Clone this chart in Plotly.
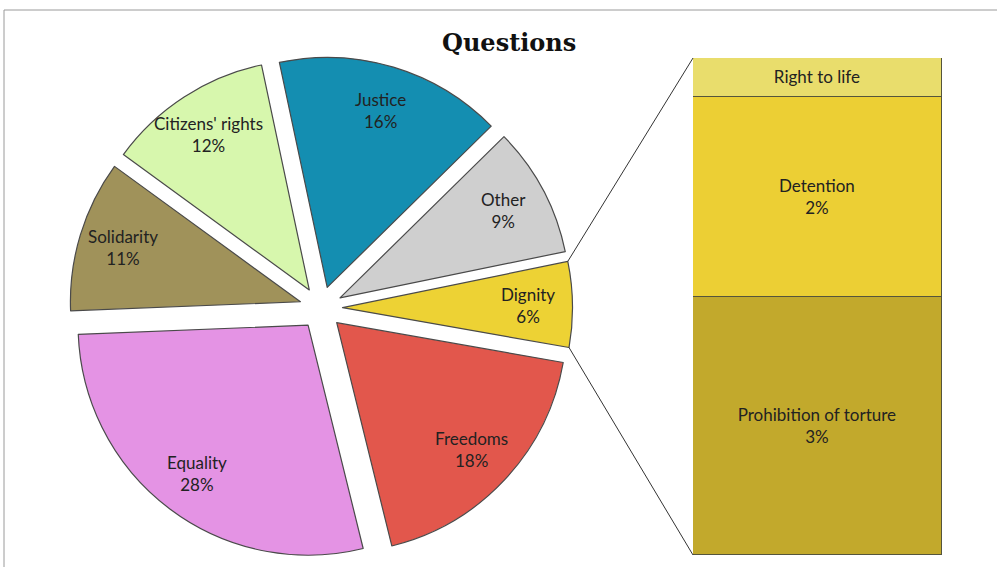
import math
import plotly.graph_objects as go

# ---- data ----
categories = ["Justice", "Other", "Dignity", "Freedoms", "Equality", "Solidarity", "Citizens' rights"]
sub_categories = ["Prohibition of torture", "Detention", "Right to life"]
sub_shares = [3.1, 2.4, 0.47]
other_shares = {"Justice": 15.9, "Other": 9.1, "Freedoms": 18.3, "Equality": 28.1,
                "Solidarity": 10.6, "Citizens' rights": 11.6}
shares = [round(sum(sub_shares), 2) if c == "Dignity" else other_shares[c] for c in categories]

slice_colors = ["#148EB1", "#CFCFCF", "#EDD234", "#E2574C", "#E493E4", "#A0925A", "#D7F7AD"]
sub_colors = ["#C2A92C", "#ECCF34", "#E9DD6C"]
sub_show_pct = [True, True, False]

title_text = "Questions"

# ---- style / layout constants ----
W, H = 997, 567
PULL = 0.0935
ROTATION = -12
pie_cx, pie_cy, pie_R = 321, 308, 251.5          # pixel centre and outer extent
bar_x0, bar_x1, bar_top, bar_bot = 693, 942, 58, 555
LABEL_FONT = dict(family="Lato, Open Sans, sans-serif", size=17, color="#222222")


def px2paper(x, y):
    return x / W, 1 - y / H


total = sum(shares)
pct = [round(v / total * 100) for v in shares]

fig = go.Figure()

dom_x = [(pie_cx - pie_R) / W, (pie_cx + pie_R) / W]
dom_y = [1 - (pie_cy + pie_R) / H, 1 - (pie_cy - pie_R) / H]

fig.add_trace(go.Pie(
    labels=categories, values=shares, sort=False, direction="clockwise",
    rotation=ROTATION, pull=[PULL] * len(shares),
    marker=dict(colors=slice_colors, line=dict(color="#4a4a4a", width=1.2)),
    textinfo="none", hoverinfo="label+percent", showlegend=False,
    domain=dict(x=dom_x, y=dom_y),
))

# label annotations, positioned from the pie geometry
r = pie_R / (1 + PULL)
pull_px = PULL * r
annotations = []
cum = 0.0
angles = []
for name, v, p in zip(categories, shares, pct):
    a0 = ROTATION + cum / total * 360
    cum += v
    a1 = ROTATION + cum / total * 360
    angles.append((a0, a1))
    mid = math.radians((a0 + a1) / 2)
    d = pull_px + 0.805 * r
    lx = pie_cx + d * math.sin(mid)
    ly = pie_cy - d * math.cos(mid)
    xp, yp = px2paper(lx, ly)
    annotations.append(dict(x=xp, y=yp, xref="paper", yref="paper",
                            xanchor="center", yanchor="middle",
                            text=f"{name}<br>{p}%", showarrow=False,
                            font=LABEL_FONT, align="center"))

# ---- bar of pie ----
for name, v, c, show in zip(sub_categories, sub_shares, sub_colors, sub_show_pct):
    txt = f"{name}<br>{round(v / total * 100)}%" if show else name
    fig.add_trace(go.Bar(
        x=[0], y=[v], name=name, marker=dict(color=c, line=dict(color="#55553c", width=1.2)),
        text=[txt], textposition="inside", insidetextanchor="middle",
        textfont=LABEL_FONT, constraintext="none", showlegend=False,
        xaxis="x", yaxis="y", hoverinfo="name+y",
    ))

bx = [bar_x0 / W, bar_x1 / W]
by = [1 - bar_bot / H, 1 - bar_top / H]
sub_total = sum(sub_shares)

# connector lines from Dignity slice to the bar
di = categories.index("Dignity")
a0, a1 = angles[di]
mid = math.radians((a0 + a1) / 2)
pcx = pie_cx + pull_px * math.sin(mid)
pcy = pie_cy - pull_px * math.cos(mid)
shapes = []
for ang, yb in ((a0, by[1]), (a1, by[0])):
    t = math.radians(ang)
    ex = pcx + r * math.sin(t)
    ey = pcy - r * math.cos(t)
    xp, yp = px2paper(ex, ey)
    shapes.append(dict(type="line", xref="paper", yref="paper", x0=xp, y0=yp,
                       x1=bx[0], y1=yb, line=dict(color="#333333", width=1)))

# outer frame
fx0, fy1 = px2paper(4, 10)
shapes.append(dict(type="rect", xref="paper", yref="paper", x0=fx0, y0=-0.05,
                   x1=1.05, y1=fy1, line=dict(color="#9a9a9a", width=1),
                   fillcolor="rgba(0,0,0,0)", layer="below"))

tx, ty = px2paper(509, 42)
annotations.append(dict(x=tx, y=ty, xref="paper", yref="paper", text=f"<b>{title_text}</b>",
                        xanchor="center", yanchor="middle",
                        showarrow=False, font=dict(family="DejaVu Serif, serif", size=24, color="#111111")))

fig.update_layout(
    width=W, height=H, margin=dict(l=0, r=0, t=0, b=0),
    paper_bgcolor="white", plot_bgcolor="rgba(0,0,0,0)",
    barmode="stack", bargap=0,
    xaxis=dict(domain=bx, range=[-0.5, 0.5], visible=False, fixedrange=True),
    yaxis=dict(domain=by, range=[0, sub_total], visible=False, fixedrange=True),
    annotations=annotations, shapes=shapes,
    uniformtext=dict(mode=False),
)

fig.write_html("out.html", config={"displayModeBar": False},
               post_script="document.body.style.margin='0';")
